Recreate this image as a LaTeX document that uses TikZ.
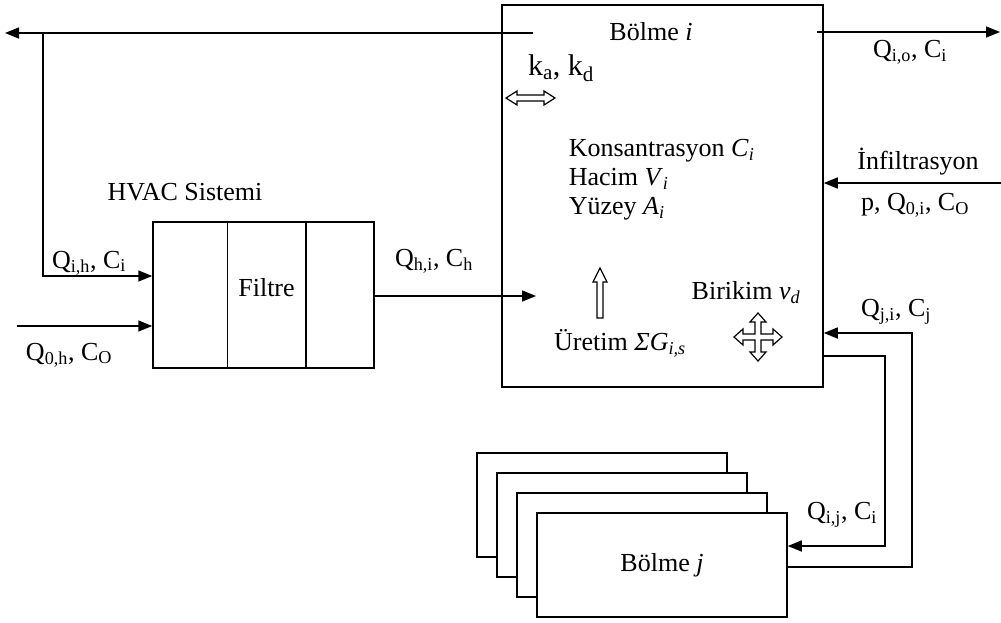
\documentclass[tikz,border=0pt]{standalone}
\usepackage{fontspec}
\setmainfont{Liberation Serif}
\usetikzlibrary{arrows.meta, positioning, calc}
\tikzset{
  every picture/.style={line width=1.5pt},
  box/.style={draw=black, fill=white, inner sep=0pt},
  arrow/.style={-{Triangle[length=14pt, width=11pt]}, draw=black, line width=1.5pt},
  note/.style={font=\fontsize{26}{30}\selectfont, inner sep=1pt},
  hollow/.style={draw=black, fill=white, line width=1.2pt, line join=miter},
}

\begin{document}
\begin{tikzpicture}[x=1pt, y=-1pt, every node/.append style={font=\fontsize{26}{30}\selectfont}]
  \useasboundingbox (0,0) rectangle (1001,622);
  % zone i
  \node[box, minimum width=321, minimum height=382] (bi) at (662.5,196) {};
  \node[note] (bit) at (651,32) {Bölme \textit{i}};
  \node[note, font=\fontsize{30}{34}\selectfont] (kad) at (561,68) {k\textsubscript{a}, k\textsubscript{d}};
  \node[note, align=left, anchor=west, font=\fontsize{26}{29}\selectfont] (prop) at (567,180)
    {Konsantrasyon \textit{C}\textsubscript{\textit{i}}\\Hacim \textit{V}\textsubscript{\textit{i}}\\Yüzey \textit{A}\textsubscript{\textit{i}}};
  \node[note] (bir) at (746,293) {Birikim \textit{v}\textsubscript{\textit{d}}};
  \node[note] (ure) at (620,343) {Üretim \textit{ΣG}\textsubscript{\textit{i,s}}};
  \draw[hollow] (506,98) -- (517,91) -- (517,95) -- (544,95) -- (544,91) -- (555,98)
    -- (544,105) -- (544,101) -- (517,101) -- (517,105) -- cycle;
  \draw[hollow] (600,268) -- (607,282) -- (603,282) -- (603,318) -- (597,318) -- (597,282) -- (593,282) -- cycle;
  \draw[hollow, shift={(758,337)}] (3,-3) -- (15,-3) -- (15,-8) -- (24,0) -- (15,8) -- (15,3) -- (3,3)
    -- (3,15) -- (8,15) -- (0,24) -- (-8,15) -- (-3,15) -- (-3,3)
    -- (-15,3) -- (-15,8) -- (-24,0) -- (-15,-8) -- (-15,-3) -- (-3,-3)
    -- (-3,-15) -- (-8,-15) -- (0,-24) -- (8,-15) -- (3,-15) -- cycle;

  % HVAC
  \node[box, minimum width=221, minimum height=146] (hvac) at (263.5,295) {};
  \draw ([xshift=75pt]hvac.north west) -- ([xshift=75pt]hvac.south west);
  \draw ([xshift=-69pt]hvac.north east) -- ([xshift=-69pt]hvac.south east);
  \node[note] (filtre) at (266.5,288) {Filtre};
  \node[note] (hvt) at (185,192) {HVAC Sistemi};

  \coordinate (ret) at (533,33);
  \coordinate (outL) at (5,33);
  \coordinate (jn) at (43,33);
  \draw[arrow] (ret) -- (outL);
  \draw[arrow] (jn) |- ([yshift=19pt]hvac.west);
  \coordinate (oa) at (17,326);
  \draw[arrow] (oa) -- (oa -| hvac.west);
  \coordinate (hin) at (536,296);
  \draw[arrow] (hvac.east |- hin) -- (hin);
  \node[note] (qih) at (89,263) {Q\textsubscript{i,h}, C\textsubscript{i}};
  \node[note] (qoh) at (69,355) {Q\textsubscript{0,h}, C\textsubscript{O}};
  \node[note] (qhi) at (434,261) {Q\textsubscript{h,i}, C\textsubscript{h}};

  % outdoor side
  \coordinate (out0) at (817,32);
  \coordinate (outR) at (1000,32);
  \draw[arrow] (out0) -- (outR);
  \node[note] (qio) at (910,52) {Q\textsubscript{i,o}, C\textsubscript{i}};
  \coordinate (inf) at (1001,183);
  \draw[arrow] (inf) -- (inf -| bi.east);
  \node[note] (infl) at (918,162) {İnfiltrasyon};
  \node[note] (infq) at (915,205) {p, Q\textsubscript{0,i}, C\textsubscript{O}};

  % zones j
  \foreach \k in {3,2,1}
    \node[box, minimum width=250, minimum height=104] (bj\k) at (662-20*\k, 565-20*\k) {};
  \node[box, minimum width=250, minimum height=104] (bj) at (662,565) {Bölme \textit{j}};
  \coordinate (cj) at (912,333);
  \coordinate (ci) at (885,356);
  \draw[arrow] ([yshift=-2pt]bj.east) -| (cj) -- (cj -| bi.east);
  \draw[arrow] (ci -| bi.east) -- (ci) |- ([yshift=19pt]bj.east);
  \node[note] (qji) at (896,312) {Q\textsubscript{j,i}, C\textsubscript{j}};
  \node[note] (qij) at (842,515) {Q\textsubscript{i,j}, C\textsubscript{i}};
\end{tikzpicture}
\end{document}
